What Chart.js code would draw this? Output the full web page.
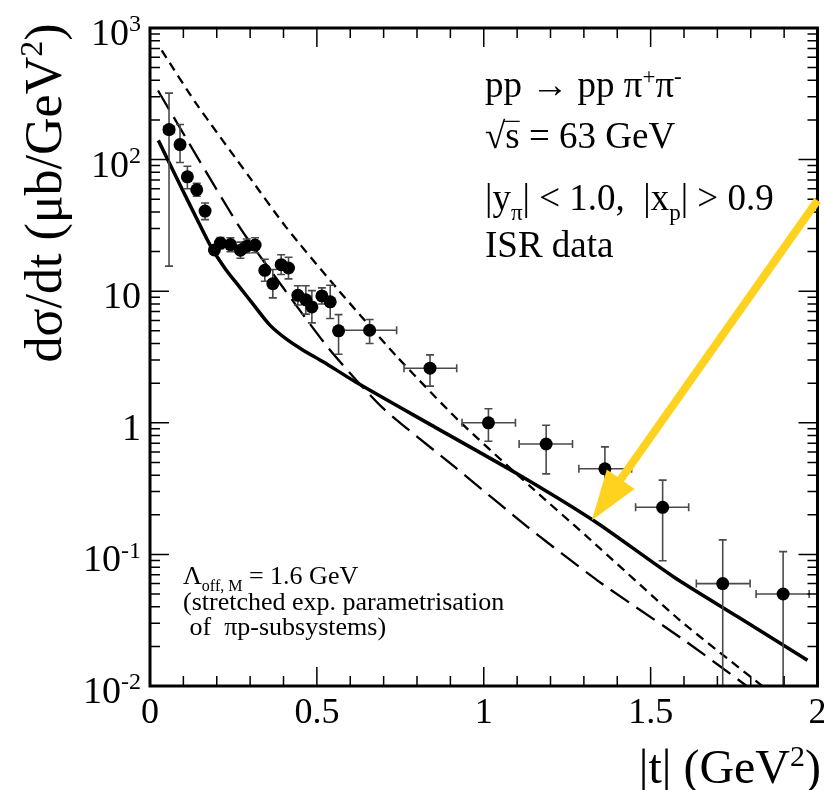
<!DOCTYPE html>
<html>
<head>
<meta charset="utf-8">
<script src="https://cdn.jsdelivr.net/npm/chart.js@4.4.1/dist/chart.umd.min.js"></script>
<style>
  html, body { margin: 0; padding: 0; background: #fff; }
  #wrap { width: 824px; height: 790px; }
</style>
</head>
<body>
<div id="wrap"><canvas id="c" width="824" height="790"></canvas></div>
<script>
const SERIF = '"Liberation Serif", "Times New Roman", serif'

// ISR data: |t| (GeV^2), dsigma/dt (mub/GeV^2) with error ranges
const tVals = [0.057, 0.090, 0.112, 0.140, 0.165, 0.193, 0.211, 0.241, 0.271, 0.290, 0.315, 0.344, 0.368, 0.393, 0.415,
  0.443, 0.467, 0.485, 0.515, 0.540, 0.565, 0.658, 0.839, 1.014, 1.187, 1.363, 1.536, 1.716, 1.897]
const sigmaVals = [169, 130, 74, 59, 40.6, 20.6, 23.2, 22.6, 20.5, 22.0, 22.4, 14.4, 11.4, 15.9, 15.0,
  9.3, 8.6, 7.6, 9.2, 8.3, 5.0, 5.05, 2.60, 1.0, 0.69, 0.447, 0.228, 0.060, 0.050]
const sigmaHi = [320, 185, 89, 66, 46.8, 22.1, 25.6, 25.5, 23.6, 24.9, 25.5, 17.5, 14.6, 18.9, 18.1,
  11.0, 11.0, 10.1, 10.6, 11.1, 6.64, 6.1, 3.28, 1.28, 0.959, 0.656, 0.367, 0.129, 0.105]
const sigmaLo = [15.5, 95, 60, 52.8, 35, 19.2, 21.0, 20.0, 17.8, 19.5, 19.6, 11.9, 8.9, 13.4, 12.4,
  7.85, 6.7, 5.75, 8.0, 6.2, 3.32, 4.0, 1.90, 0.725, 0.409, 0.30, 0.0894, 0.005, 0.005]
const tLo = [0.041, 0.090, 0.112, 0.140, 0.165, 0.193, 0.211, 0.241, 0.271, 0.290, 0.315, 0.344, 0.368, 0.393, 0.415,
  0.443, 0.467, 0.485, 0.515, 0.540, 0.565, 0.565, 0.761, 0.935, 1.106, 1.285, 1.455, 1.637, 1.816]
const tHi = [0.073, 0.090, 0.112, 0.140, 0.165, 0.193, 0.211, 0.241, 0.271, 0.290, 0.315, 0.344, 0.368, 0.393, 0.415,
  0.443, 0.467, 0.485, 0.515, 0.540, 0.565, 0.739, 0.919, 1.095, 1.266, 1.443, 1.614, 1.798, 1.975]

// model curves
const solidT = [0.025, 0.089, 0.139, 0.183, 0.228, 0.268, 0.31, 0.36, 0.41, 0.46, 0.52, 0.615, 0.843, 1.10, 1.33, 1.567, 1.766, 1.97]
const solidY = [140, 65, 36, 21.7, 14.5, 10.8, 7.9, 5.5, 4.3, 3.55, 2.9, 2.05, 0.96, 0.41, 0.18, 0.068, 0.033, 0.0157]
const longT = [0.024, 0.05, 0.268, 0.397, 0.536, 0.694, 0.913, 1.131, 1.339, 1.607, 1.80]
const longY = [335, 258, 30.8, 10.8, 3.66, 1.32, 0.462, 0.162, 0.0638, 0.0217, 0.0095]
const shortT = [0.035, 0.139, 0.298, 0.407, 0.556, 0.739, 0.923, 1.141, 1.31, 1.587, 1.85]
const shortY = [675, 265, 73.6, 30.8, 10.8, 3.2, 1.05, 0.326, 0.136, 0.0317, 0.0093]

// axis ticks
const xTickValues = [0, 0.5, 1, 1.5, 2]
const xTickLabels = ['0', '0.5', '1', '1.5', '2']
const yDecades = [0.01, 0.1, 1, 10, 100, 1000]
const yTickLabels = [['10', '-2'], ['10', '-1'], ['1', ''], ['10', ''], ['10', '2'], ['10', '3']]

// arrow [t, sigma]
const arrowFrom = [2.0, 49]
const arrowTo = [1.324, 0.182]

const toXY = (xs, ys) => xs.map((x, i) => ({ x, y: ys[i] }))

function drawRich(ctx, x, y, parts, size, align) {
  const small = p => p[1] === 'sup' || p[1] === 'sub'
  const fontOf = p => `${small(p) ? Math.round(size * 0.62) : size}px ${SERIF}`
  let w = 0
  for (const p of parts) { ctx.font = fontOf(p); w += ctx.measureText(p[0]).width }
  let cx = align === 'right' ? x - w : align === 'center' ? x - w / 2 : x
  ctx.textAlign = 'left'
  ctx.textBaseline = 'alphabetic'
  for (const p of parts) {
    ctx.font = fontOf(p)
    const dy = p[1] === 'sup' ? -size * 0.36 : p[1] === 'sub' ? size * 0.26 : 0
    ctx.fillText(p[0], cx, y + dy)
    const tw = ctx.measureText(p[0]).width
    if (p[1] === 'over') {
      ctx.save()
      ctx.lineWidth = 1.2
      ctx.beginPath()
      ctx.moveTo(cx - 2, y - size * 0.72)
      ctx.lineTo(cx + tw, y - size * 0.72)
      ctx.stroke()
      ctx.restore()
    }
    cx += tw
  }
}

const errorBarPlugin = {
  id: 'errorBars',
  beforeDatasetDraw(chart, args) {
    if (chart.data.datasets[args.index].label !== 'ISR data') return
    const { ctx, chartArea: { left, right, top, bottom }, scales: { x, y } } = chart
    ctx.save()
    ctx.beginPath()
    ctx.rect(left, top, right - left, bottom - top)
    ctx.clip()
    ctx.strokeStyle = '#4a4a4a'
    ctx.lineWidth = 1.6
    const cap = 4
    tVals.forEach((t, i) => {
      const px = x.getPixelForValue(t)
      const py = y.getPixelForValue(sigmaVals[i])
      const yh = y.getPixelForValue(sigmaHi[i])
      const yl = y.getPixelForValue(sigmaLo[i])
      ctx.beginPath()
      ctx.moveTo(px, yh); ctx.lineTo(px, yl)
      ctx.moveTo(px - cap, yh); ctx.lineTo(px + cap, yh)
      ctx.moveTo(px - cap, yl); ctx.lineTo(px + cap, yl)
      if (tHi[i] > tLo[i]) {
        const xl = x.getPixelForValue(tLo[i])
        const xh = x.getPixelForValue(tHi[i])
        ctx.moveTo(xl, py); ctx.lineTo(xh, py)
        ctx.moveTo(xl, py - cap); ctx.lineTo(xl, py + cap)
        ctx.moveTo(xh, py - cap); ctx.lineTo(xh, py + cap)
      }
      ctx.stroke()
    })
    ctx.restore()
  },
}

const framePlugin = {
  id: 'frame',
  afterDraw(chart) {
    const { ctx, chartArea: { left, right, top, bottom }, scales: { x, y } } = chart
    ctx.save()
    ctx.fillStyle = '#000'
    ctx.strokeStyle = '#000'

    // ticks (inside, all four sides)
    ctx.lineWidth = 1.5
    ctx.beginPath()
    for (let i = 0; i <= 20; i++) {
      const px = x.getPixelForValue(i / 10)
      const len = i % 5 === 0 ? 19 : 10
      ctx.moveTo(px, bottom); ctx.lineTo(px, bottom - len)
      ctx.moveTo(px, top); ctx.lineTo(px, top + len)
    }
    for (let d = 0; d < yDecades.length; d++) {
      for (let m = 1; m <= 9; m++) {
        const v = yDecades[d] * m
        if (v > 1000) break
        const py = y.getPixelForValue(v)
        const len = m === 1 ? 19 : 10
        ctx.moveTo(left, py); ctx.lineTo(left + len, py)
        ctx.moveTo(right, py); ctx.lineTo(right - len, py)
      }
    }
    ctx.stroke()

    // frame
    ctx.lineWidth = 3
    ctx.strokeRect(left, top, right - left, bottom - top)

    // tick labels
    xTickValues.forEach((v, i) => {
      drawRich(ctx, x.getPixelForValue(v), bottom + 37, [[xTickLabels[i]]], 36, 'center')
    })
    yDecades.forEach((v, i) => {
      const [base, exp] = yTickLabels[i]
      const parts = exp ? [[base], [exp, 'sup']] : [[base]]
      drawRich(ctx, 141, y.getPixelForValue(v) + 17, parts, 38, 'right')
    })

    // axis titles
    drawRich(ctx, 821, 783, [['|t| (GeV'], ['2', 'sup'], [')']], 48, 'right')
    ctx.save()
    ctx.translate(61, 193)
    ctx.rotate(-Math.PI / 2)
    drawRich(ctx, 0, 0, [['d\u03c3/dt (\u03bcb/GeV'], ['2', 'sup'], [')']], 52, 'center')
    ctx.restore()

    // labels in the plot
    drawRich(ctx, 485, 97, [['pp \u2192 pp \u03c0'], ['+', 'sup'], ['\u03c0'], ['-', 'sup']], 37, 'left')
    drawRich(ctx, 485, 148, [['\u221a'], ['s', 'over'], [' = 63 GeV']], 37, 'left')
    drawRich(ctx, 485, 210, [['|y'], ['\u03c0', 'sub'], ['| < 1.0,  |x'], ['p', 'sub'], ['| > 0.9']], 37, 'left')
    drawRich(ctx, 485, 257, [['ISR data']], 37, 'left')

    drawRich(ctx, 183, 584, [['\u039b'], ['off, M', 'sub'], [' = 1.6 GeV']], 26, 'left')
    drawRich(ctx, 183, 610, [['(stretched exp. parametrisation']], 26, 'left')
    drawRich(ctx, 183, 635, [[' of  \u03c0p-subsystems)']], 26, 'left')

    // yellow arrow
    const x0 = x.getPixelForValue(arrowFrom[0]), y0 = y.getPixelForValue(arrowFrom[1])
    const x1 = x.getPixelForValue(arrowTo[0]), y1 = y.getPixelForValue(arrowTo[1])
    const dx = x1 - x0, dy = y1 - y0, L = Math.hypot(dx, dy)
    const ux = dx / L, uy = dy / L
    const headLen = 50, headHalf = 17
    const bx = x1 - ux * headLen, by = y1 - uy * headLen
    ctx.strokeStyle = '#ffd21f'
    ctx.fillStyle = '#ffd21f'
    ctx.lineWidth = 8
    ctx.beginPath()
    ctx.moveTo(x0, y0); ctx.lineTo(bx + ux * 2, by + uy * 2)
    ctx.stroke()
    ctx.beginPath()
    ctx.moveTo(x1, y1)
    ctx.lineTo(bx - uy * headHalf, by + ux * headHalf)
    ctx.lineTo(bx + uy * headHalf, by - ux * headHalf)
    ctx.closePath()
    ctx.fill()
    ctx.restore()
  },
}

new Chart(document.getElementById('c'), {
  type: 'scatter',
  data: {
    datasets: [
      {
        label: 'ISR data',
        data: toXY(tVals, sigmaVals),
        backgroundColor: '#000',
        borderColor: '#000',
        pointRadius: 6.5,
        pointBorderWidth: 0,
        showLine: false,
      },
      {
        label: 'stretched exp.',
        data: toXY(solidT, solidY),
        borderColor: '#000',
        borderWidth: 3.5,
        pointRadius: 0,
        showLine: true,
        tension: 0.25,
      },
      {
        label: 'long dash',
        data: toXY(longT, longY),
        borderColor: '#000',
        borderWidth: 2.3,
        borderDash: [22, 9],
        pointRadius: 0,
        showLine: true,
        tension: 0.2,
      },
      {
        label: 'short dash',
        data: toXY(shortT, shortY),
        borderColor: '#000',
        borderWidth: 2.3,
        borderDash: [9, 6],
        pointRadius: 0,
        showLine: true,
        tension: 0.2,
      },
    ],
  },
  options: {
    responsive: false,
    animation: false,
    devicePixelRatio: 1,
    layout: { padding: { left: 150, top: 28, right: 2, bottom: 104 } },
    plugins: { legend: { display: false }, tooltip: { enabled: false } },
    scales: {
      x: { type: 'linear', min: 0, max: 2, display: false },
      y: { type: 'logarithmic', min: 0.01, max: 1000, display: false },
    },
  },
  plugins: [errorBarPlugin, framePlugin],
})
</script>
</body>
</html>
